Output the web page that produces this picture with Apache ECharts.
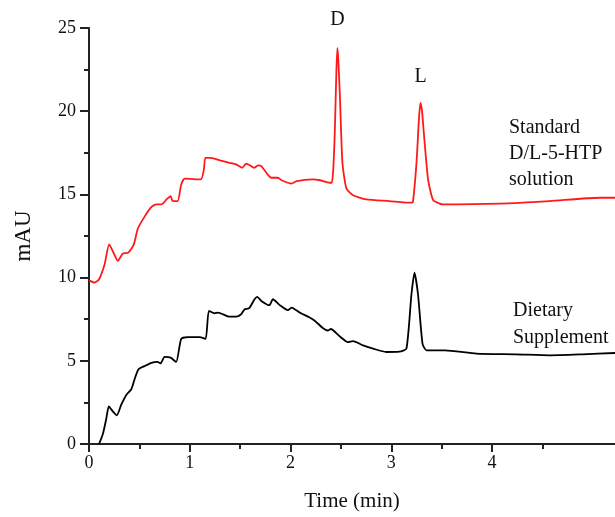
<!DOCTYPE html>
<html>
<head>
<meta charset="utf-8">
<script src="https://cdn.jsdelivr.net/npm/echarts@6/dist/echarts.min.js"></script>
<style>html,body{margin:0;padding:0;background:#fff}#c{width:615px;height:517px}</style>
</head>
<body>
<div id="c"></div>
<script>
var redX = [0, 0.055, 0.10, 0.155, 0.20, 0.25, 0.286, 0.336, 0.39, 0.445, 0.485, 0.55, 0.62, 0.667, 0.72, 0.77, 0.81, 0.83, 0.88, 0.915, 0.95, 1.11, 1.14, 1.155, 1.21, 1.30, 1.395, 1.46, 1.52, 1.56, 1.61, 1.64, 1.68, 1.71, 1.76, 1.81, 1.875, 1.91, 2.01, 2.06, 2.22, 2.29, 2.39, 2.41, 2.425, 2.44, 2.455, 2.465, 2.475, 2.49, 2.515, 2.555, 2.62, 2.75, 2.98, 3.2, 3.215, 3.25, 3.275, 3.29, 3.305, 3.32, 3.365, 3.415, 3.48, 3.51, 4.08, 4.57, 5.07, 5.22];
var redY = [9.85, 9.7, 9.9, 10.8, 12.0, 11.4, 11.0, 11.45, 11.5, 12.0, 12.95, 13.65, 14.25, 14.4, 14.4, 14.7, 14.9, 14.6, 14.6, 15.6, 15.95, 15.9, 16.5, 17.2, 17.2, 17.05, 16.9, 16.8, 16.6, 16.85, 16.7, 16.6, 16.75, 16.7, 16.3, 16.0, 16.0, 15.85, 15.65, 15.8, 15.9, 15.85, 15.7, 15.7, 16.6, 18.9, 22.4, 23.8, 23.0, 20.9, 16.9, 15.35, 14.95, 14.7, 14.6, 14.5, 14.55, 16.9, 19.6, 20.5, 20.0, 18.9, 15.9, 14.65, 14.45, 14.4, 14.45, 14.6, 14.8, 14.8];
var blackX = [0.10, 0.137, 0.17, 0.197, 0.236, 0.276, 0.32, 0.37, 0.42, 0.45, 0.49, 0.55, 0.62, 0.68, 0.71, 0.75, 0.81, 0.865, 0.915, 0.98, 1.097, 1.157, 1.19, 1.246, 1.28, 1.395, 1.46, 1.51, 1.545, 1.59, 1.643, 1.67, 1.71, 1.79, 1.825, 1.89, 1.975, 2.01, 2.09, 2.19, 2.24, 2.32, 2.37, 2.40, 2.49, 2.57, 2.62, 2.72, 2.82, 2.95, 3.08, 3.15, 3.2, 3.23, 3.265, 3.31, 3.35, 3.53, 3.845, 4.24, 4.57, 4.9, 5.22];
var blackY = [0, 0.58, 1.47, 2.26, 1.96, 1.72, 2.36, 2.95, 3.29, 3.85, 4.48, 4.68, 4.88, 4.93, 4.84, 5.23, 5.19, 4.93, 6.32, 6.42, 6.42, 6.32, 8.0, 7.85, 7.9, 7.65, 7.65, 7.8, 8.1, 8.16, 8.7, 8.84, 8.6, 8.34, 8.7, 8.36, 8.04, 8.2, 7.9, 7.6, 7.41, 6.97, 6.82, 6.91, 6.46, 6.12, 6.18, 5.93, 5.73, 5.53, 5.55, 5.73, 9.0, 10.3, 9.0, 6.02, 5.63, 5.63, 5.43, 5.39, 5.33, 5.39, 5.47];
var xMajorTicks = [0, 1, 2, 3, 4];
var xMinorTicks = [0.5, 1.5, 2.5, 3.5, 4.5];
var peakLabels = [{text: 'D', x: 2.465, y: 23.8}, {text: 'L', x: 3.29, y: 20.5}];
var seriesLabels = [['Standard', 'D/L-5-HTP', 'solution'], ['Dietary', 'Supplement']];

function zip(a, b) { return a.map(function (v, i) { return [v, b[i]]; }); }

var FONT = '"Liberation Serif", "Times New Roman", serif';
var chart = echarts.init(document.getElementById('c'));
var axisCol = '#222';
chart.setOption({
  animation: false,
  grid: {left: 89, right: 0, top: 28, bottom: 69},
  xAxis: [{
    type: 'value', min: 0, max: 5.22, interval: 1,
    name: 'Time (min)', nameLocation: 'middle', nameGap: 47,
    nameTextStyle: {fontFamily: FONT, fontSize: 21, color: '#111'},
    axisLine: {lineStyle: {color: axisCol, width: 2}},
    axisTick: {customValues: xMajorTicks, length: 8, lineStyle: {color: axisCol, width: 2}},
    axisLabel: {customValues: xMajorTicks, fontFamily: FONT, fontSize: 18, color: '#111', margin: 10},
    splitLine: {show: false}
  }, {
    type: 'value', min: 0, max: 5.22, position: 'bottom',
    axisLine: {show: false},
    axisTick: {customValues: xMinorTicks, length: 5, lineStyle: {color: axisCol, width: 2}},
    axisLabel: {show: false},
    splitLine: {show: false}
  }],
  yAxis: {
    type: 'value', min: 0, max: 25, interval: 5,
    name: 'mAU', nameLocation: 'middle', nameGap: 54,
    nameTextStyle: {fontFamily: FONT, fontSize: 23, color: '#111'},
    axisLine: {show: true, lineStyle: {color: axisCol, width: 2}},
    axisTick: {show: true, length: 9, lineStyle: {color: axisCol, width: 2}},
    minorTick: {show: true, splitNumber: 2, length: 5, lineStyle: {color: axisCol, width: 2}},
    axisLabel: {fontFamily: FONT, fontSize: 18, color: '#111', margin: 13},
    splitLine: {show: false}
  },
  series: [{
    type: 'line', data: zip(redX, redY), showSymbol: false, smooth: 0.2,
    lineStyle: {color: '#ff1a1a', width: 1.8}, clip: true,
    markPoint: {
      symbol: 'circle', symbolSize: 0, silent: true,
      itemStyle: {color: 'rgba(0,0,0,0)'},
      data: peakLabels.map(function (p) {
        return {
          coord: [p.x, p.y],
          label: {show: true, position: 'top', distance: p.text === 'D' ? 18 : 16, formatter: p.text, fontFamily: FONT, fontSize: 20, color: '#111'}
        };
      })
    }
  }, {
    type: 'line', data: zip(blackX, blackY), showSymbol: false, smooth: 0.2,
    lineStyle: {color: '#000', width: 1.8}, clip: true
  }],
  graphic: [{
    type: 'text', left: 509, top: 115,
    style: {text: seriesLabels[0].join('\n'), font: '20px ' + FONT, fill: '#111', lineHeight: 26}
  }, {
    type: 'text', left: 513, top: 297,
    style: {text: seriesLabels[1].join('\n'), font: '20px ' + FONT, fill: '#111', lineHeight: 27}
  }]
});
</script>
</body>
</html>
